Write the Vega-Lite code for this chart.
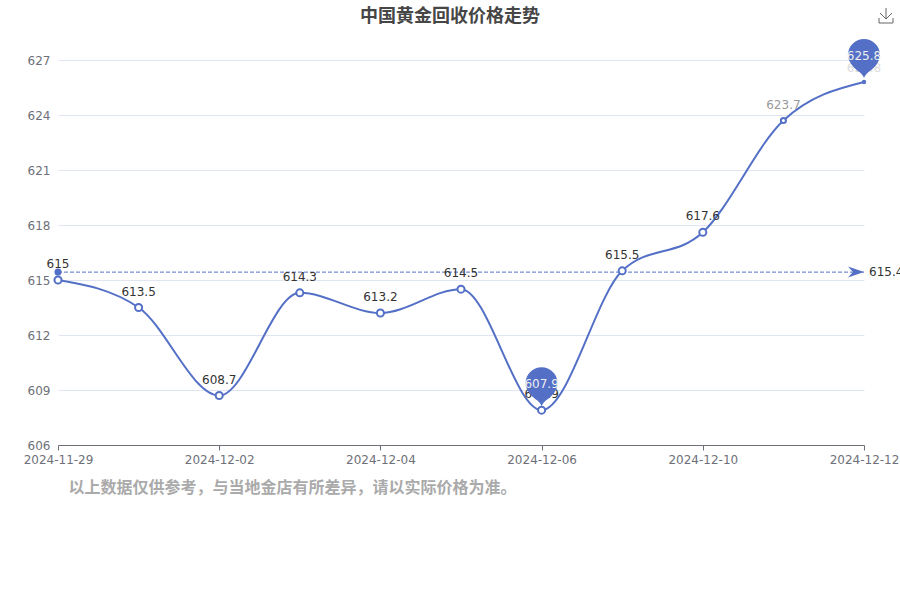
{
  "$schema": "https://vega.github.io/schema/vega-lite/v6.json",
  "description": "中国黄金回收价格走势",
  "autosize": {"type": "none"},
  "padding": {"left": 58, "top": 60, "right": 36, "bottom": 155},
  "width": 806,
  "height": 385,
  "background": "white",
  "config": {
    "font": "DejaVu Sans",
    "view": {"stroke": null}
  },
  "title": {
    "text": "中国黄金回收价格走势",
    "anchor": "middle",
    "dx": -11,
    "offset": -20,
    "font": "Noto Sans CJK SC",
    "fontSize": 18,
    "fontWeight": "bold",
    "color": "#464646"
  },
  "datasets": {
    "prices": [
      {"date": "2024-11-29", "price": 615},
      {"date": "2024-11-30", "price": 613.5},
      {"date": "2024-12-02", "price": 608.7},
      {"date": "2024-12-03", "price": 614.3},
      {"date": "2024-12-04", "price": 613.2},
      {"date": "2024-12-05", "price": 614.5},
      {"date": "2024-12-06", "price": 607.9},
      {"date": "2024-12-09", "price": 615.5},
      {"date": "2024-12-10", "price": 617.6},
      {"date": "2024-12-11", "price": 623.7},
      {"date": "2024-12-12", "price": 625.8}
    ],
    "average": [
      {"date": "2024-11-29", "mean": 615.43, "label": "615"},
      {"date": "2024-12-12", "mean": 615.43, "label": "615.4"}
    ],
    "extremes": [
      {"date": "2024-12-06", "price": 607.9},
      {"date": "2024-12-12", "price": 625.8}
    ]
  },
  "encoding": {
    "x": {
      "field": "date",
      "type": "ordinal",
      "scale": {
        "type": "point",
        "padding": 0,
        "domain": ["2024-11-29", "2024-11-30", "2024-12-02", "2024-12-03", "2024-12-04", "2024-12-05", "2024-12-06", "2024-12-09", "2024-12-10", "2024-12-11", "2024-12-12"]
      },
      "axis": {
        "values": ["2024-11-29", "2024-12-02", "2024-12-04", "2024-12-06", "2024-12-10", "2024-12-12"],
        "labelAngle": 0,
        "labelColor": "#6e7079",
        "labelFontSize": 12,
        "labelOverlap": false,
        "labelBound": false,
        "labelPadding": 4,
        "domainColor": "#6e7079",
        "tickColor": "#6e7079",
        "tickSize": 5,
        "grid": false,
        "title": "以上数据仅供参考，与当地金店有所差异，请以实际价格为准。",
        "titleFont": "Noto Sans CJK SC",
        "titleFontSize": 16,
        "titleFontWeight": "bold",
        "titleColor": "#aaaaaa",
        "titleAnchor": "start",
        "titleAlign": "left",
        "titleBaseline": "middle",
        "titleX": 10,
        "titleY": 42
      }
    }
  },
  "layer": [
    {
      "data": {"name": "prices"},
      "mark": {"type": "rule", "opacity": 0},
      "encoding": {
        "y": {
          "field": "price",
          "type": "quantitative",
          "scale": {"domain": [606, 627], "nice": false, "zero": false},
          "axis": {
            "values": [606, 609, 612, 615, 618, 621, 624, 627],
            "title": null,
            "domain": false,
            "ticks": false,
            "gridColor": "#e0e6f1",
            "labelColor": "#6e7079",
            "labelFontSize": 12,
            "labelPadding": 8
          }
        }
      }
    },
    {
      "data": {"name": "average"},
      "transform": [{"filter": "datum.label === '615'"}],
      "mark": {"type": "rule", "color": "#5470c6", "strokeWidth": 1, "strokeDash": [4, 2]},
      "encoding": {
        "x": {"value": 0},
        "x2": {"value": 806},
        "y": {"field": "mean", "type": "quantitative"}
      }
    },
    {
      "data": {"name": "prices"},
      "mark": {"type": "line", "color": "#5470c6", "strokeWidth": 2, "interpolate": "monotone"},
      "encoding": {"y": {"field": "price", "type": "quantitative"}}
    },
    {
      "data": {"name": "prices"},
      "mark": {"type": "point", "filled": false, "fill": "white", "fillOpacity": 1, "stroke": "#5470c6", "strokeWidth": 2, "opacity": 1},
      "encoding": {
        "y": {"field": "price", "type": "quantitative"},
        "size": {
          "condition": [
            {"test": "datum.price > 625", "value": 6},
            {"test": "datum.price > 623", "value": 26}
          ],
          "value": 50
        }
      }
    },
    {
      "data": {"name": "prices"},
      "transform": [{"filter": "datum.date !== '2024-11-29' && datum.price < 625"}],
      "mark": {"type": "text", "dy": -16, "fontSize": 12, "baseline": "middle"},
      "encoding": {
        "y": {"field": "price", "type": "quantitative"},
        "text": {"field": "price", "type": "quantitative", "format": ".1f"},
        "color": {
          "condition": {"test": "datum.price > 623", "value": "#999999"},
          "value": "#333333"
        }
      }
    },
    {
      "data": {"name": "prices"},
      "transform": [{"filter": "datum.price > 625"}],
      "mark": {"type": "text", "dy": -14, "fontSize": 12, "baseline": "middle", "color": "#dddddd"},
      "encoding": {
        "y": {"field": "price", "type": "quantitative"},
        "text": {"field": "price", "type": "quantitative", "format": ".1f"}
      }
    },
    {
      "data": {"name": "average"},
      "transform": [{"filter": "datum.label === '615'"}],
      "mark": {"type": "point", "shape": "circle", "filled": true, "color": "#5470c6", "size": 50, "opacity": 1},
      "encoding": {"y": {"field": "mean", "type": "quantitative"}}
    },
    {
      "data": {"name": "average"},
      "transform": [{"filter": "datum.label === '615'"}],
      "mark": {"type": "text", "dy": -8, "fontSize": 12, "baseline": "middle", "color": "#333333"},
      "encoding": {
        "y": {"field": "mean", "type": "quantitative"},
        "text": {"field": "label"}
      }
    },
    {
      "data": {"name": "average"},
      "transform": [{"filter": "datum.label === '615.4'"}],
      "mark": {"type": "point", "shape": "M0,0L-16,-5.5L-11,0L-16,5.5Z", "filled": true, "color": "#5470c6", "size": 4, "opacity": 1},
      "encoding": {"y": {"field": "mean", "type": "quantitative"}}
    },
    {
      "data": {"name": "average"},
      "transform": [{"filter": "datum.label === '615.4'"}],
      "mark": {"type": "text", "align": "left", "dx": 5, "fontSize": 12, "baseline": "middle", "color": "#333333"},
      "encoding": {
        "y": {"field": "mean", "type": "quantitative"},
        "text": {"field": "label"}
      }
    },
    {
      "data": {"name": "extremes"},
      "mark": {"type": "point", "shape": "M0,-4C-1,-7,-3,-9,-6,-11C-10,-14,-16,-20,-16,-27A16,16,0,1,1,16,-27C16,-20,10,-14,6,-11C3,-9,1,-7,0,-4Z", "filled": true, "color": "#5470c6", "size": 4, "opacity": 1},
      "encoding": {"y": {"field": "price", "type": "quantitative"}}
    },
    {
      "data": {"name": "extremes"},
      "mark": {"type": "text", "dy": -26, "fontSize": 12, "baseline": "middle", "color": "#eeeeee"},
      "encoding": {
        "y": {"field": "price", "type": "quantitative"},
        "text": {"field": "price", "type": "quantitative", "format": ".1f"}
      }
    },
    {
      "data": {"values": [{"date": "2024-12-12", "level": 627}]},
      "mark": {"type": "point", "shape": "M22,-52V-41M16,-47L22,-41L28,-47M15,-42V-37H29V-42", "filled": false, "stroke": "#666666", "strokeWidth": 1, "size": 4, "opacity": 1},
      "encoding": {"y": {"field": "level", "type": "quantitative"}}
    }
  ]
}
